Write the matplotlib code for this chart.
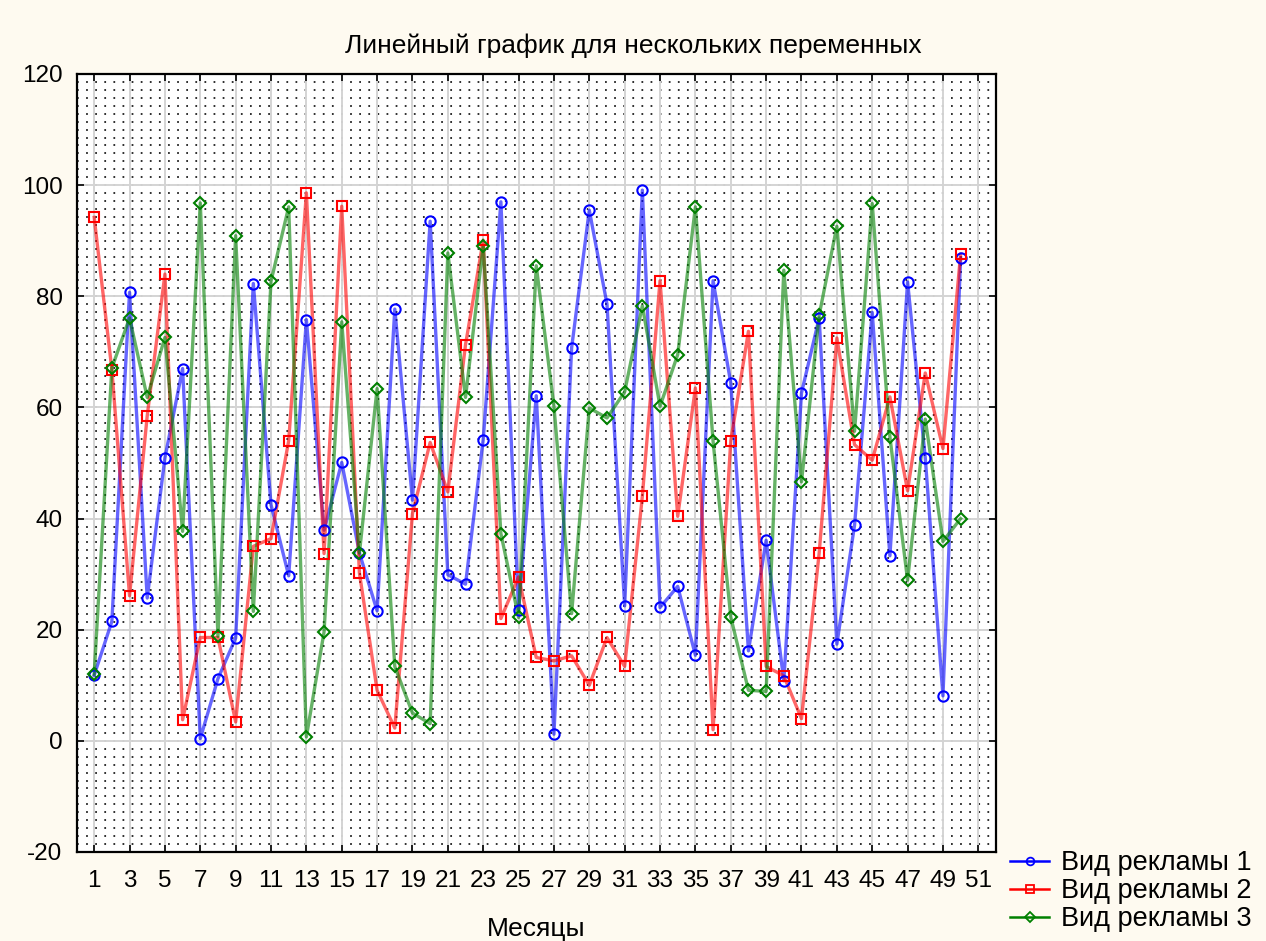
import numpy as np
import matplotlib
matplotlib.use("Agg")
import matplotlib.pyplot as plt

months = list(range(1, 51))

ad1 = [11.8, 21.5, 80.7, 25.7, 50.9, 67.0, 0.4, 11.2, 18.5, 82.3,
       42.5, 29.7, 75.8, 37.9, 50.1, 33.8, 23.4, 77.7, 43.3, 93.5,
       29.9, 28.2, 54.2, 97.0, 23.6, 62.1, 1.2, 70.7, 95.5, 78.6,
       24.3, 99.1, 24.0, 27.8, 15.4, 82.8, 64.4, 16.2, 36.1, 10.8,
       62.6, 76.1, 17.4, 38.8, 77.1, 33.3, 82.6, 50.9, 8.1, 86.9]

ad2 = [94.2, 66.8, 26.1, 58.5, 84.0, 3.8, 18.6, 18.6, 3.4, 35.0,
       36.4, 54.0, 98.6, 33.7, 96.2, 30.2, 9.1, 2.3, 40.9, 53.7,
       44.8, 71.3, 90.1, 22.0, 29.5, 15.0, 14.4, 15.3, 10.0, 18.6,
       13.4, 44.0, 82.8, 40.4, 63.5, 2.0, 54.0, 73.7, 13.4, 11.7,
       4.0, 33.8, 72.5, 53.3, 50.5, 61.9, 45.0, 66.2, 52.6, 87.6]

ad3 = [12.0, 67.1, 76.1, 61.8, 72.6, 37.7, 96.8, 18.8, 90.9, 23.3,
       82.7, 96.1, 0.7, 19.6, 75.4, 33.8, 63.4, 13.4, 5.0, 3.1,
       87.8, 61.8, 89.1, 37.3, 22.2, 85.5, 60.2, 22.9, 59.9, 58.1,
       62.8, 78.3, 60.2, 69.5, 96.1, 53.9, 22.3, 9.1, 8.9, 84.7,
       46.6, 76.6, 92.6, 55.7, 96.7, 54.7, 28.9, 57.9, 35.9, 40.0]

series_names = ["Вид рекламы 1", "Вид рекламы 2", "Вид рекламы 3"]
x_ticks = list(range(1, 52, 2))
y_ticks = list(range(-20, 121, 20))

plt.rcParams['font.family'] = ['Liberation Sans', 'DejaVu Sans']
plt.rcParams['axes.unicode_minus'] = False

bg = '#fefaf0'
fig = plt.figure(figsize=(12.66, 9.41), dpi=100, facecolor=bg)
ax = fig.add_axes([76.5/1266, 1 - 852/941, (996 - 76.5)/1266, (852 - 74)/941])
ax.set_facecolor('white')

ax.set_xlim(0, 52)
ax.set_ylim(-20, 120)

# dotted background lattice
for yv in np.arange(-20, 120, 20/14):
    ax.axhline(yv, color='black', lw=1.15, linestyle=(0, (1.1, 4.6)), zorder=0.5)
# major grid
for xv in x_ticks:
    ax.axvline(xv, color='#d4d4d4', lw=1.4, zorder=0.6)
for yv in y_ticks:
    ax.axhline(yv, color='#d4d4d4', lw=1.4, zorder=0.6)

styles = [('#0000ff', 'o', 7.4), ('#ff0000', 's', 7.2), ('#008000', 'D', 6.4)]
handles = []
for vals, name, (c, m, ms) in zip([ad1, ad2, ad3], series_names, styles):
    ax.plot(months, vals, color=c, lw=2.4, alpha=0.6, zorder=2)
    ax.plot(months, vals, linestyle='none', marker=m, markersize=ms,
            markerfacecolor='none', markeredgecolor=c, markeredgewidth=1.5, zorder=3)
    h, = ax.plot([], [], color=c, lw=1.8, marker=m, markersize=ms * 0.75,
                 markerfacecolor='none', markeredgecolor=c, markeredgewidth=1.3)
    handles.append(h)

ax.set_xticks(x_ticks)
ax.set_yticks(y_ticks)
ax.tick_params(axis='both', direction='in', length=5, width=1.2, labelsize=17.5,
               top=True, right=True)
ax.tick_params(axis='x', pad=13)
ax.tick_params(axis='y', pad=10)
for sp in ax.spines.values():
    sp.set_linestyle((0, (3, 1)))
    sp.set_linewidth(1.6)
    sp.set_color('black')

fig.text(0.5, 1 - 53.5/941, "Линейный график для нескольких переменных", fontsize=19,
         ha='center', va='baseline')
ax.set_xlabel("Месяцы", fontsize=19, labelpad=18)

fig.legend(handles, series_names, loc='upper left', bbox_to_anchor=(1010/1266, 1 - 850/941),
           frameon=False, fontsize=19.5, handlelength=1.45, handletextpad=0.45,
           labelspacing=0.08, borderaxespad=0, borderpad=0)

fig.savefig('out.png', dpi=100, facecolor=bg)
